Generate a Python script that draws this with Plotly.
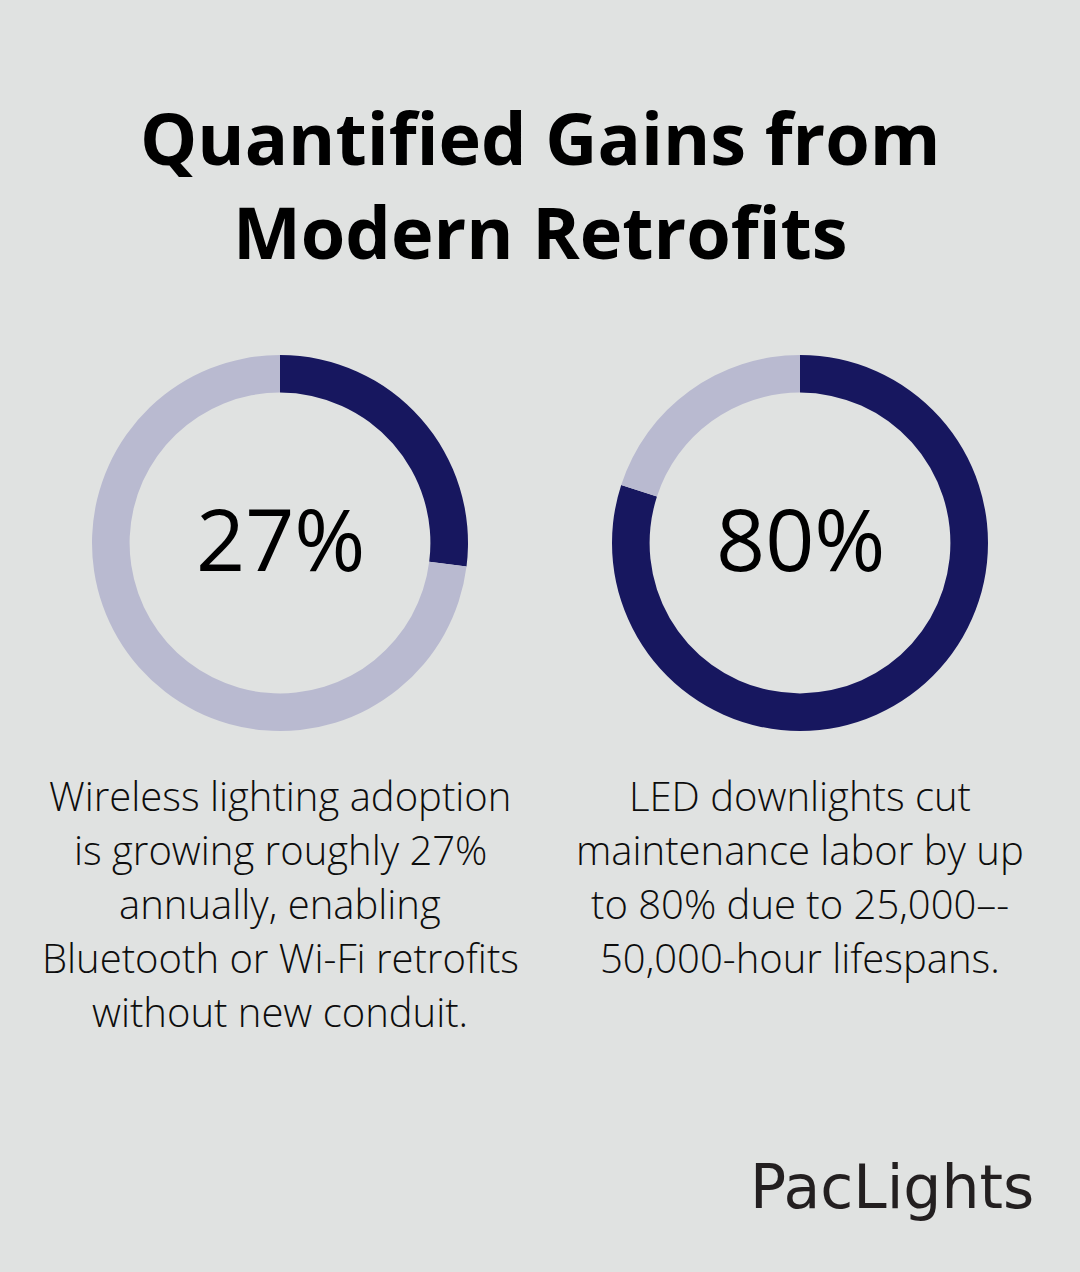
import plotly.graph_objects as go

W, H = 1080, 1272

title_lines = ["Quantified Gains from", "Modern Retrofits"]
metrics = [27, 80]
labels = ["27%", "80%"]
captions = [
    ["Wireless lighting adoption", "is growing roughly 27%", "annually, enabling",
     "Bluetooth or Wi-Fi retrofits", "without new conduit."],
    ["LED downlights cut", "maintenance labor by up", "to 80% due to 25,000–-",
     "50,000-hour lifespans."],
]
brand = "PacLights"

BG = "#E0E2E1"
DARK = "#17175F"
LIGHT = "#B9BAD0"
TXT = "#0d0d0d"

def py(y):
    return 1 - y / H

fig = go.Figure()
centers_x = [280, 800]
cy = 543
R = 188
for i, v in enumerate(metrics):
    cx = centers_x[i]
    fig.add_trace(go.Pie(
        values=[v, 100 - v],
        marker=dict(colors=[DARK, LIGHT], line=dict(width=0)),
        hole=0.8,
        sort=False,
        direction="clockwise",
        rotation=0,
        textinfo="none",
        hoverinfo="skip",
        showlegend=False,
        domain=dict(x=[(cx - R) / W, (cx + R) / W], y=[py(cy + R), py(cy - R)]),
    ))
    fig.add_annotation(x=cx / W, y=py(cy - 6), xref="paper", yref="paper",
                       text=labels[i], showarrow=False,
                       xanchor="center", yanchor="middle",
                       font=dict(family="Open Sans", size=86, color="#000000", weight=400))

# title
fig.add_annotation(x=0.5, y=py(184), xref="paper", yref="paper",
                   text="<br>".join(title_lines), showarrow=False,
                   xanchor="center", yanchor="middle",
                   font=dict(family="Open Sans", size=72, color="#000000", weight=700))

# captions, one annotation per line
for i, lines in enumerate(captions):
    for k, line in enumerate(lines):
        fig.add_annotation(x=centers_x[i] / W, y=py(795 + 54 * k), xref="paper", yref="paper",
                           text=line, showarrow=False,
                           xanchor="center", yanchor="middle", align="center",
                           font=dict(family="Open Sans", size=40, color=TXT, weight=300))

# brand
fig.add_annotation(x=1036 / W, y=py(1187), xref="paper", yref="paper",
                   text=brand, showarrow=False, xanchor="right", yanchor="middle",
                   font=dict(family="DejaVu Sans", size=60, color="#231f20", weight=400))

fig.update_layout(width=W, height=H, margin=dict(l=0, r=0, t=0, b=0),
                  paper_bgcolor=BG, plot_bgcolor=BG)

fig.write_html("out.html")
